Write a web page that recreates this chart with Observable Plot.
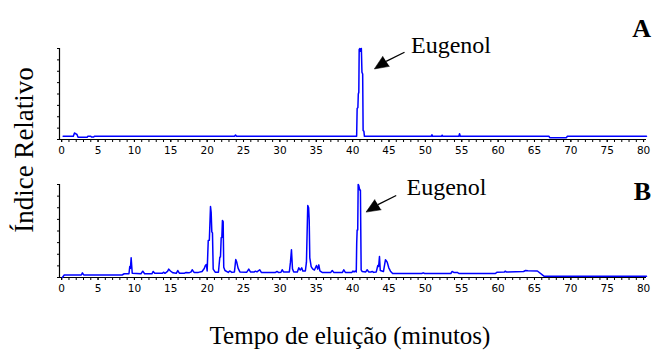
<!DOCTYPE html>
<html><head><meta charset="utf-8">
<script src="https://cdn.jsdelivr.net/npm/d3@7"></script>
<script src="https://cdn.jsdelivr.net/npm/@observablehq/plot@0.6"></script>
<style>
html,body{margin:0;padding:0;background:#fff;}
#wrap{position:relative;width:655px;height:353px;overflow:hidden;background:#fff;}
#wrap > svg{position:absolute;left:0;}
</style></head><body><div id="wrap"></div>
<script>
// Chromatogram A: [tempo (min), índice relativo (%)]
const chromA = [
  [0.2,3.5],[1.6,3.5],[1.76,7.2],[1.9,6.5],[2.1,5.5],[2.25,2.5],[3.5,2.5],[3.6,3.5],
  [4.0,3.5],[4.1,2.7],[4.4,2.7],[4.5,3.5],[23.75,3.5],[23.9,4.8],[24.05,3.5],
  [40.55,3.5],[40.62,34],[40.72,35],[40.78,50],[40.85,52],[40.9,99],[41.0,100],[41.1,97],
  [41.2,100],[41.28,74],[41.38,72],[41.44,10],[41.55,9],[41.62,3.5],
  [50.8,3.5],[50.9,5.2],[51.0,3.5],[52.2,3.5],[52.3,4.7],[52.4,3.5],
  [54.6,3.5],[54.7,6.3],[54.8,3.5],[67.0,3.5],[67.1,2.0],[69.4,2.0],[69.5,3.5],[80.4,3.5]
];
// Chromatogram B
const chromB = [
  [0.1,0],[0.35,2.7],[2.7,2.7],[2.85,5.0],[3.0,3.0],[3.1,2.7],[8.3,2.7],[8.6,4.0],
  [9.25,4.0],[9.36,11.8],[9.45,10],[9.55,21.2],[9.7,4.5],[10.9,4.0],[11.15,6.8],[11.4,4.0],
  [12.4,4.0],[12.58,6.5],[12.8,4.5],[13.85,4.5],[14.0,5.7],[14.2,4.5],[14.55,6.5],[14.72,9.0],
  [14.95,7.0],[15.3,5.0],[15.75,4.5],[15.96,7.5],[16.2,4.5],[16.9,4.6],[17.1,5.5],[17.5,5.0],
  [17.8,6.0],[17.94,8.3],[18.2,5.5],[18.8,5.5],[19.3,6.5],[19.6,9.7],[19.75,13],[19.88,14],
  [20.0,7],[20.15,39.8],[20.3,40],[20.46,76.3],[20.55,70],[20.64,49],[20.73,48],[20.83,9],
  [21.1,5.7],[21.55,5.7],[21.74,21.8],[21.83,22],[21.93,42.7],[22.02,43],[22.1,61.3],[22.2,60],
  [22.28,11],[22.45,7.5],[22.9,5.5],[23.1,7],[23.4,5.5],[23.75,6],[23.93,19.4],[24.05,17],
  [24.25,10],[24.5,6],[25.45,5.7],[25.72,9],[25.95,6],[26.5,6],[26.64,6.8],[26.85,6],
  [27.23,8.3],[27.45,5.4],[29.4,5.4],[29.6,6.5],[29.8,5.4],[30.15,5.6],[30.31,8.3],[30.5,6],
  [31.3,6],[31.45,16.5],[31.59,29.8],[31.73,9.3],[31.9,6],[32.4,6],[32.6,10.4],[32.8,8],
  [33.0,10.4],[33.15,7],[33.5,7],[33.65,16.5],[33.83,77.4],[33.95,75],[34.03,61.3],[34.11,21.2],
  [34.3,11.8],[34.5,9.3],[34.75,8],[35.03,12.9],[35.2,9],[35.35,13.6],[35.5,7],[35.8,5.5],
  [37.0,5.5],[37.2,7.5],[37.4,5.5],[38.6,5.5],[38.78,8.3],[39.0,5.5],[39.9,5.5],[40.05,7],
  [40.2,6],[40.35,7],[40.5,6],[40.56,37],[40.62,51],[40.7,51],[40.76,100],[40.84,99],
  [40.98,94],[41.07,94],[41.17,8.3],[41.3,6.5],[41.8,6],[42.0,8.3],[42.2,6],[42.55,6],
  [42.69,6.5],[42.9,5.5],[43.25,6],[43.46,12.9],[43.58,12],[43.69,22.6],[43.8,7.5],[44.24,6.5],
  [44.51,19],[44.62,18],[44.75,16.5],[44.97,10.4],[45.2,6.8],[45.5,4.3],[49.5,4.3],[49.7,5],
  [49.9,4.3],[53.5,4.3],[53.68,6.5],[53.9,5.5],[54.4,5.5],[54.6,4.3],[59.6,4.3],[59.87,5.7],
  [60.85,5.8],[60.99,6.8],[61.15,5.8],[63.5,6.5],[63.76,7.5],[64.1,7.2],[65.4,7.0],[66.3,1.4],
  [80.4,1.4]
];
const xDomain = [-0.3, 80.4];
const xMajorTicks = d3.range(0, 81, 5);
const xMinorTicks = d3.range(0, 81, 1);
const yTicks = d3.range(0, 100.1, 12.5);
// annotation arrows (data coordinates): tail, head base, direction
const arrowA = {tail: [47.13, 95.9], head: [44.6, 85.9], angle: 237};
const arrowB = {tail: [45.99, 88.2], head: [43.48, 78.3], angle: 238};
const labels = {y: "Índice Relativo", x: "Tempo de eluição (minutos)", peak: "Eugenol", panels: ["A", "B"]};

function panel(data, arrow, height, mt, mb) {
  return Plot.plot({
    width: 655, height, marginLeft: 59, marginRight: 9, marginTop: mt, marginBottom: mb,
    x: {domain: xDomain}, y: {domain: [0, 100]},
    style: {background: "transparent", color: "black", fontFamily: "DejaVu Sans", fontSize: "10.5px"},
    marks: [
      Plot.axisY({ticks: yTicks, tickSize: 2, tickFormat: () => "", label: null}),
      Plot.axisX({ticks: xMinorTicks, tickSize: 3, tickFormat: () => "", label: null}),
      Plot.axisX({ticks: xMajorTicks, tickSize: 3, tickPadding: 4, label: null}),
      Plot.ruleX([xDomain[0]], {stroke: "black", strokeWidth: 1.2}),
      Plot.ruleY([0], {stroke: "black", strokeWidth: 1.2}),
      Plot.line(data, {x: d => d[0], y: d => d[1], stroke: "#0000ff", strokeWidth: 1.5}),
      Plot.link([arrow], {x1: d => d.tail[0], y1: d => d.tail[1], x2: d => d.head[0], y2: d => d.head[1], stroke: "black", strokeWidth: 1.3}),
      Plot.vector([arrow], {x: d => d.head[0], y: d => d.head[1], rotate: d => d.angle, length: 14, r: 6, shape: "spike", anchor: "start", fill: "black", stroke: "black", strokeWidth: 0.5})
    ]
  });
}

const wrap = document.getElementById("wrap");
const pA = panel(chromA, arrowA, 160, 48, 21);
pA.style.top = "0px";
const pB = panel(chromB, arrowB, 140, 24, 23);
pB.style.top = "160px";
wrap.appendChild(pA);
wrap.appendChild(pB);

const ns = "http://www.w3.org/2000/svg";
const ov = document.createElementNS(ns, "svg");
ov.setAttribute("width", 655); ov.setAttribute("height", 353);
ov.style.top = "0px"; ov.style.pointerEvents = "none";
function txt(s, attrs) {
  const t = document.createElementNS(ns, "text");
  for (const k in attrs) t.setAttribute(k, attrs[k]);
  t.textContent = s; ov.appendChild(t);
}
const serif = "Liberation Serif, Times New Roman, serif";
txt(labels.y, {transform: "translate(33,150) rotate(-90)", "text-anchor": "middle", "font-family": serif, "font-size": 27});
txt(labels.x, {x: 350, y: 344, "text-anchor": "middle", "font-family": serif, "font-size": 25});
txt(labels.panels[0], {x: 651, y: 37, "text-anchor": "end", "font-family": serif, "font-size": 26, "font-weight": "bold"});
txt(labels.panels[1], {x: 651, y: 200, "text-anchor": "end", "font-family": serif, "font-size": 26, "font-weight": "bold"});
txt(labels.peak, {x: 411, y: 53, "font-family": serif, "font-size": 24});
txt(labels.peak, {x: 406.5, y: 195, "font-family": serif, "font-size": 24});
wrap.appendChild(ov);
</script></body></html>
